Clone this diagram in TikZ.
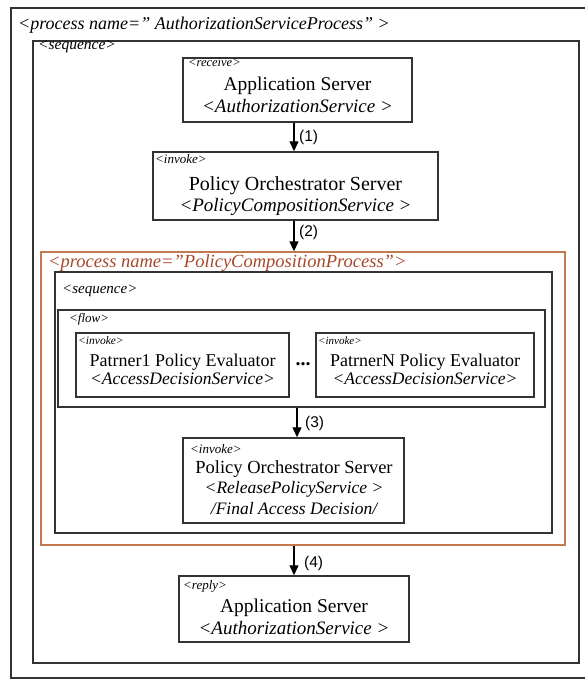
\documentclass[tikz,border=0pt]{standalone}
\usepackage{fontspec}
\setmainfont{Liberation Serif}
\newfontfamily\numfont{Liberation Sans}
\usetikzlibrary{arrows.meta,fit}
\definecolor{boxline}{HTML}{333333}
\definecolor{orangeline}{HTML}{C27A4E}
\definecolor{orangetext}{HTML}{A8482A}
\newcommand{\fs}[1]{\fontsize{#1}{#1}\selectfont}
\tikzset{
  box/.style={draw=boxline, line width=1.4pt, inner sep=0pt},
  obox/.style={draw=orangeline, line width=1.4pt, inner sep=0pt},
  tag/.style={anchor=base west, inner sep=0pt},
  txt/.style={anchor=base, inner sep=0pt},
  flowarrow/.style={-{Triangle[length=10pt,width=9pt]}, line width=1.2pt, black},
  num/.style={anchor=west, inner sep=0pt, font=\numfont\fs{15.5}}
}
\begin{document}
\begin{tikzpicture}[x=1pt,y=-1pt]
\useasboundingbox (0,0) rectangle (585,679);
\fill[white] (0,0) rectangle (585,679);
% containers
\node[box, fit={(11,8) (600,678)}] (outer) {};
\node[box, fit={(33,41) (579,663)}] (seq) {};
\node[obox, fit={(41,252) (565,545)}] (proc) {};
\node[box, fit={(55,272) (552,533)}] (seqin) {};
\node[box, fit={(58,310) (545,407)}] (flow) {};
% activity boxes
\node[box, fit={(183,58) (412,122)}] (recv) {};
\node[box, fit={(153,152) (438,220)}] (inv) {};
\node[box, fit={(76,333) (289,397)}] (p1) {};
\node[box, fit={(316,333) (534,397)}] (pn) {};
\node[box, fit={(183,438) (404,523)}] (rel) {};
\node[box, fit={(179,576) (409,642)}] (reply) {};
% container tags
\node[tag, font=\itshape\fs{18}] (t-outer) at (18,30) {<process name=" AuthorizationServiceProcess" >};
\node[tag, font=\itshape\fs{15.5}] (t-seq) at (38,50) {<sequence>};
\node[tag, font=\itshape\fs{18.5}, text=orangetext] (t-proc) at (48,267) {<process name="PolicyCompositionProcess">};
\node[tag, font=\itshape\fs{15}] (t-seqin) at (62,293) {<sequence>};
\node[tag, font=\itshape\fs{13}] (t-flow) at (69,322) {<flow>};
% receive
\node[tag, font=\itshape\fs{12.5}] (t-recv) at (188,67) {<receive>};
\node[txt, font=\fs{19.5}] (recv-a) at (297.5,91) {Application Server};
\node[txt, font=\itshape\fs{19}] (recv-b) at (297.5,113) {<AuthorizationService >};
% invoke
\node[tag, font=\itshape\fs{13}] (t-inv) at (155,164) {<invoke>};
\node[txt, font=\fs{20}] (inv-a) at (295.5,190) {Policy Orchestrator Server};
\node[txt, font=\itshape\fs{19}] (inv-b) at (295.5,211) {<PolicyCompositionService >};
% partner 1
\node[tag, font=\itshape\fs{11.5}] (t-p1) at (78,344) {<invoke>};
\node[txt, font=\fs{18}] (p1-a) at (182.5,366) {Patrner1 Policy Evaluator};
\node[txt, font=\itshape\fs{17.5}] (p1-b) at (182.5,384) {<AccessDecisionService>};
% dots
\node[inner sep=0pt, font=\bfseries\fs{20}] (dots) at (303,364) {...};
% partner N
\node[tag, font=\itshape\fs{11}] (t-pn) at (318,344) {<invoke>};
\node[txt, font=\fs{18}] (pn-a) at (425,366) {PatrnerN Policy Evaluator};
\node[txt, font=\itshape\fs{17.5}] (pn-b) at (425,384) {<AccessDecisionService>};
% release
\node[tag, font=\itshape\fs{13}] (t-rel) at (190,453) {<invoke>};
\node[txt, font=\fs{18.5}] (rel-a) at (294,473) {Policy Orchestrator Server};
\node[txt, font=\itshape\fs{17.5}] (rel-b) at (294,493) {<ReleasePolicyService >};
\node[txt, font=\itshape\fs{17.5}] (rel-c) at (294,514) {/Final Access Decision/};
% reply
\node[tag, font=\itshape\fs{13}] (t-reply) at (183,589) {<reply>};
\node[txt, font=\fs{19.5}] (reply-a) at (294,612) {Application Server};
\node[txt, font=\itshape\fs{19}] (reply-b) at (294,634) {<AuthorizationService >};
% arrow x positions
\coordinate (ax1) at (294,0);
\coordinate (ax3) at (297,0);
\draw[flowarrow] (recv.south -| ax1) -- (inv.north -| ax1);
\draw[flowarrow] (inv.south -| ax1) -- (proc.north -| ax1);
\draw[flowarrow] (flow.south -| ax3) -- (rel.north -| ax3);
\draw[flowarrow] (proc.south -| ax1) -- (reply.north -| ax1);
\node[num] (n1) at (299,137) {(1)};
\node[num] (n2) at (299,232) {(2)};
\node[num] (n3) at (305,423) {(3)};
\node[num] (n4) at (304,563) {(4)};
\end{tikzpicture}
\end{document}
